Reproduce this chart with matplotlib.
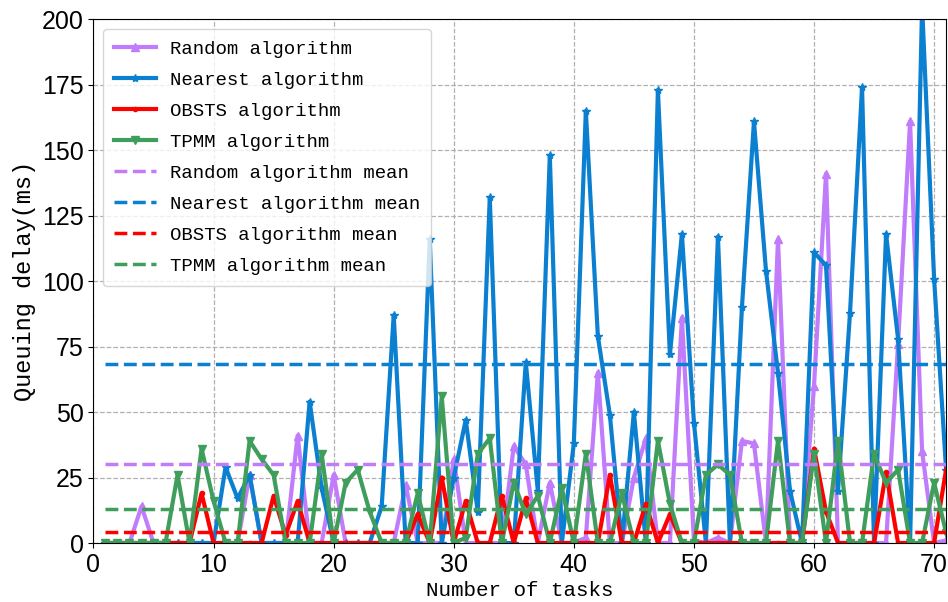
import matplotlib
matplotlib.use("Agg")
import matplotlib.pyplot as plt
import numpy as np

tasks = list(range(1, 72))

random_delay = [0, 0, 0, 14, 0, 0, 0, 0, 0, 0,
                0, 0, 26, 0, 0, 0, 41, 0, 0, 26,
                0, 0, 0, 0, 0, 22, 0, 0, 0, 32,
                0, 0, 0, 0, 37, 30, 0, 23, 0, 0,
                2, 65, 0, 0, 25, 40, 0, 0, 86, 1,
                0, 2, 0, 39, 38, 0, 116, 0, 0, 60,
                141, 0, 0, 0, 0, 0, 76, 161, 35, 0,
                1]

nearest_delay = [0, 0, 0, 0, 0, 0, 0, 0, 0, 0,
                 29, 17, 26, 0, 0, 0, 0, 54, 21, 0,
                 0, 0, 0, 14, 87, 0, 0, 116, 0, 25,
                 47, 12, 132, 0, 0, 69, 20, 148, 0, 38,
                 165, 79, 49, 0, 50, 0, 173, 72, 118, 46,
                 0, 117, 0, 90, 161, 104, 65, 20, 0, 111,
                 106, 20, 88, 174, 0, 118, 78, 0, 205, 101,
                 28]

obsts_delay = [0, 0, 0, 0, 0, 0, 0, 0, 19, 0,
               0, 0, 0, 0, 18, 3, 16, 0, 0, 0,
               0, 0, 0, 0, 0, 0, 11, 0, 25, 0,
               16, 0, 0, 18, 0, 17, 0, 0, 0, 0,
               0, 0, 26, 0, 0, 15, 0, 11, 0, 0,
               0, 0, 0, 0, 0, 0, 0, 0, 0, 36,
               12, 0, 0, 0, 0, 27, 0, 0, 0, 0,
               28]

tpmm_delay = [0, 0, 0, 0, 0, 0, 26, 0, 36, 16,
              0, 0, 39, 32, 26, 0, 0, 0, 34, 0,
              23, 28, 12, 0, 0, 0, 19, 0, 56, 0,
              2, 34, 40, 0, 23, 11, 18, 0, 21, 0,
              34, 0, 0, 19, 0, 0, 39, 15, 0, 0,
              26, 30, 26, 0, 0, 0, 39, 0, 0, 34,
              0, 39, 0, 0, 34, 23, 28, 0, 0, 23,
              4]

means = [30.3, 68.5, 4.2, 13.1]

labels = ["Random algorithm", "Nearest algorithm", "OBSTS algorithm", "TPMM algorithm"]
colors = ["#C07CFA", "#0B7FD0", "#FF0000", "#3F9E5C"]
markers = ["^", "*", ".", "v"]

mono = ["Liberation Mono", "DejaVu Sans Mono"]

fig = plt.figure(figsize=(9.48, 6.02), dpi=100)
ax = fig.add_axes([0.0986, 0.098, 0.8994, 0.870])

series = [random_delay, nearest_delay, obsts_delay, tpmm_delay]
for vals, lab, c, m in zip(series, labels, colors, markers):
    ax.plot(tasks, vals, color=c, lw=3, marker=m, markersize=6, label=lab)

for mval, lab, c in zip(means, labels, colors):
    ax.plot([tasks[0], tasks[-1]], [mval, mval], color=c, lw=2.5,
            linestyle="--", label=lab + " mean")

ax.set_xlim(0, 71)
ax.set_ylim(0, 200)
ax.set_xticks(range(0, 71, 10))
ax.set_yticks(range(0, 201, 25))
ax.grid(True, linestyle="--", color="#b0b0b0", linewidth=0.9)
ax.set_axisbelow(True)

for t in ax.get_yticklabels():
    t.set_fontfamily(["Liberation Sans", "DejaVu Sans"])
    t.set_fontsize(18)
for t in ax.get_xticklabels():
    t.set_fontfamily(["Liberation Sans Narrow", "Liberation Sans", "DejaVu Sans"])
    t.set_fontsize(18)

ax.set_xlabel("Number of tasks", fontfamily=mono, fontsize=15, labelpad=3)
ax.set_ylabel("Queuing delay(ms)", fontfamily=mono, fontsize=17, labelpad=4)

ax.legend(loc="upper left", prop={"family": mono, "size": 13.7},
          handlelength=2.2, labelspacing=0.72, borderpad=0.6,
          handletextpad=0.7)

fig.savefig("out.png", dpi=100)
